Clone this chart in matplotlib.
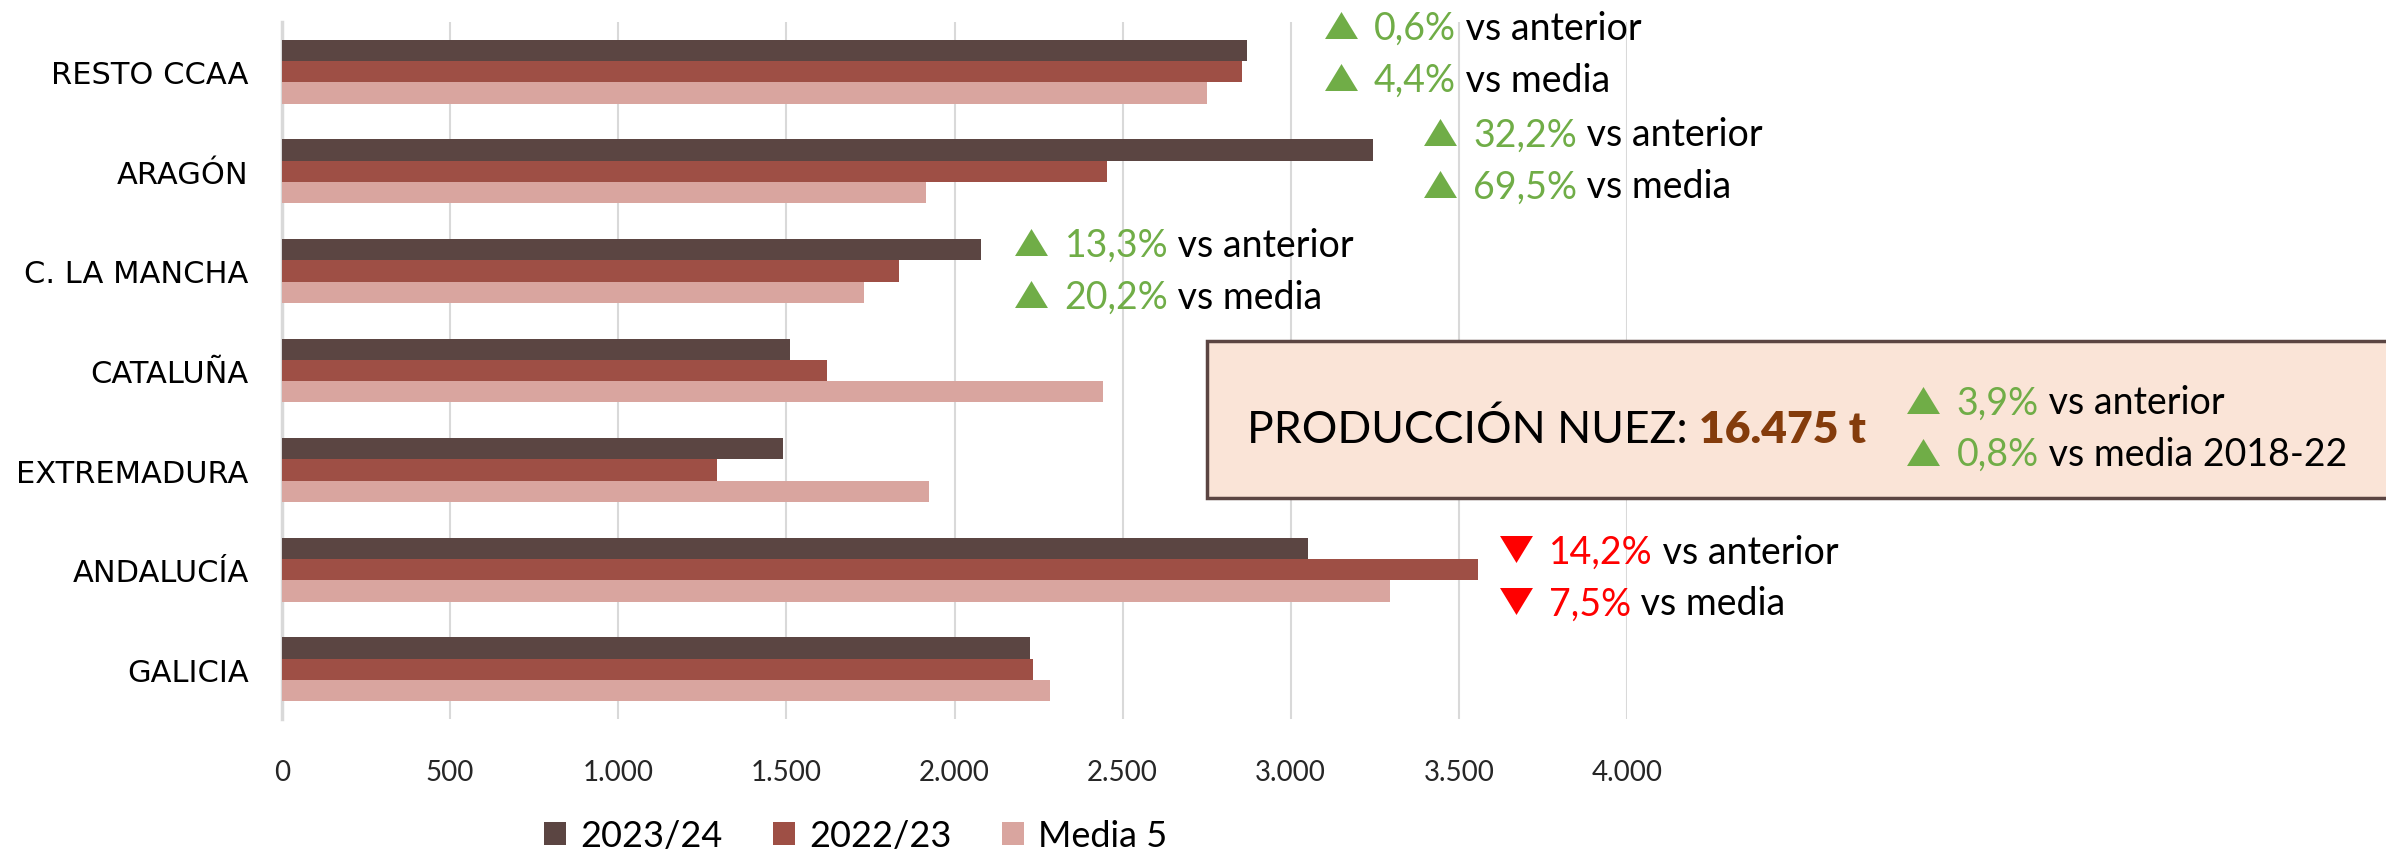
import matplotlib.pyplot as plt
from matplotlib import transforms
from matplotlib.patches import Rectangle
import numpy as np

regiones = ['RESTO CCAA', 'ARAGÓN', 'C. LA MANCHA', 'CATALUÑA', 'EXTREMADURA', 'ANDALUCÍA', 'GALICIA']
prod_2324 = [2870, 3245, 2080, 1511, 1489, 3050, 2224]
prod_2223 = [2855, 2455, 1835, 1620, 1294, 3557, 2233]
media_5 = [2750, 1915, 1730, 2443, 1923, 3295, 2284]
series = ['2023/24', '2022/23', 'Media 5']
colores = ['#5B4542', '#9E4F45', '#D9A59F']

# region, % vs anterior, % vs media, sube?
anotaciones = [
    ('RESTO CCAA', '0,6%', '4,4%', True),
    ('ARAGÓN', '32,2%', '69,5%', True),
    ('C. LA MANCHA', '13,3%', '20,2%', True),
    ('ANDALUCÍA', '14,2%', '7,5%', False),
]
total_txt = '16.475 t'
total_anterior = '3,9%'
total_media = '0,8%'

VERDE = '#70AD47'
ROJO = '#FF0000'
FUENTE = 'Lato'
FS_ANOT = 27
DPI = 100

fig = plt.figure(figsize=(23.86, 8.62), dpi=DPI)
ax = fig.add_axes([282 / 2386, 142 / 862, 1345 / 2386, 697 / 862])

y = np.arange(len(regiones))
h = 0.214
for k, (vals, lab) in enumerate(zip([prod_2324, prod_2223, media_5], series)):
    ax.barh(y + (k - 1) * h, vals, height=h, color=colores[k], label=lab, zorder=3)

ax.set_xlim(0, 4000)
ax.set_ylim(len(regiones) - 0.5, -0.5)
ax.set_xticks(np.arange(0, 4001, 500))
ax.set_xticklabels([f'{v:,}'.replace(',', '.') for v in range(0, 4001, 500)],
                   fontsize=20, fontfamily=FUENTE, color='#262626')
ax.set_yticks(y)
ax.set_yticklabels(regiones, fontsize=22, fontfamily='DejaVu Sans')
ax.tick_params(length=0)
ax.tick_params(axis='x', pad=29)
ax.tick_params(axis='y', pad=24)
ax.grid(axis='x', color='#D9D9D9', linewidth=1.5, zorder=0)
for s in ['top', 'right', 'bottom']:
    ax.spines[s].set_visible(False)
ax.spines['left'].set_color('#D9D9D9')
ax.spines['left'].set_linewidth(2.5)

renderer = fig.canvas.get_renderer()
PT = DPI / 72


def texto_color(x, yy, partes, fs=FS_ANOT):
    dx = 0
    for parte in partes:
        if parte[0] in ('sube', 'baja'):
            # triangulo ancho, alto como las cifras
            hpt = 0.72 * fs
            wpt = 1.22 * hpt
            if parte[0] == 'sube':
                verts = [(-0.5, -0.41), (0.5, -0.41), (0, 0.41)]
            else:
                verts = [(-0.5, 0.41), (0.5, 0.41), (0, -0.41)]
            t = transforms.offset_copy(ax.transData, x=dx + wpt / 2 * PT, y=hpt / 2 * PT, units='dots')
            ax.plot([x], [yy], ls='none', marker=verts, markersize=wpt, markeredgewidth=0,
                    color=parte[1], transform=t, clip_on=False, zorder=6)
            dx += (wpt + 0.62 * hpt) * PT
            continue
        s, c, kw = parte
        kw = dict(kw)
        kw.setdefault('fontsize', fs)
        t = transforms.offset_copy(ax.transData, x=dx, units='dots')
        txt = ax.text(x, yy, s, color=c, transform=t, va='baseline',
                      clip_on=False, zorder=6, **kw)
        dx += txt.get_window_extent(renderer).width


def flecha(sube):
    return ('sube', VERDE) if sube else ('baja', ROJO)


pos_anot = {'RESTO CCAA': (3100, -0.47), 'ARAGÓN': (3395, -0.40),
            'C. LA MANCHA': (2180, -0.29), 'ANDALUCÍA': (3620, -0.21)}
for reg, p_ant, p_med, sube in anotaciones:
    xa, dy = pos_anot[reg]
    yc = regiones.index(reg) + dy
    col = VERDE if sube else ROJO
    texto_color(xa, yc + 0.14, [flecha(sube), (p_ant, col, {'fontfamily': FUENTE}),
                                (' vs anterior', 'black', {'fontfamily': FUENTE})])
    texto_color(xa, yc + 0.52 + 0.14, [flecha(sube), (p_med, col, {'fontfamily': FUENTE}),
                                       (' vs media', 'black', {'fontfamily': FUENTE})])

# recuadro con la produccion total (se sale por la derecha)
caja = Rectangle((2751, 2.70), 6400 - 2751, 1.58, facecolor='#FAE4D7', edgecolor='#5B4542',
                 linewidth=2.5, clip_on=False, zorder=5)
ax.add_patch(caja)
texto_color(2870, 3.55 + 0.17, [('PRODUCCIÓN NUEZ: ', 'black', {'fontfamily': FUENTE}),
                                (total_txt, '#843C0C', {'fontfamily': FUENTE, 'fontweight': 'heavy'})],
            fs=32)
texto_color(4832, 3.29 + 0.14, [flecha(True), (total_anterior, VERDE, {'fontfamily': FUENTE}),
                                (' vs anterior', 'black', {'fontfamily': FUENTE})])
texto_color(4832, 3.81 + 0.14, [flecha(True), (total_media, VERDE, {'fontfamily': FUENTE}),
                                (' vs media 2018-22', 'black', {'fontfamily': FUENTE})])

fig.legend(loc='center', bbox_to_anchor=(856 / 2386, 25 / 862), ncol=3, frameon=False,
           prop={'family': FUENTE, 'size': 26}, handlelength=0.6, handleheight=0.6,
           handletextpad=0.4, columnspacing=1.4)

fig.savefig('out.png', dpi=DPI)
